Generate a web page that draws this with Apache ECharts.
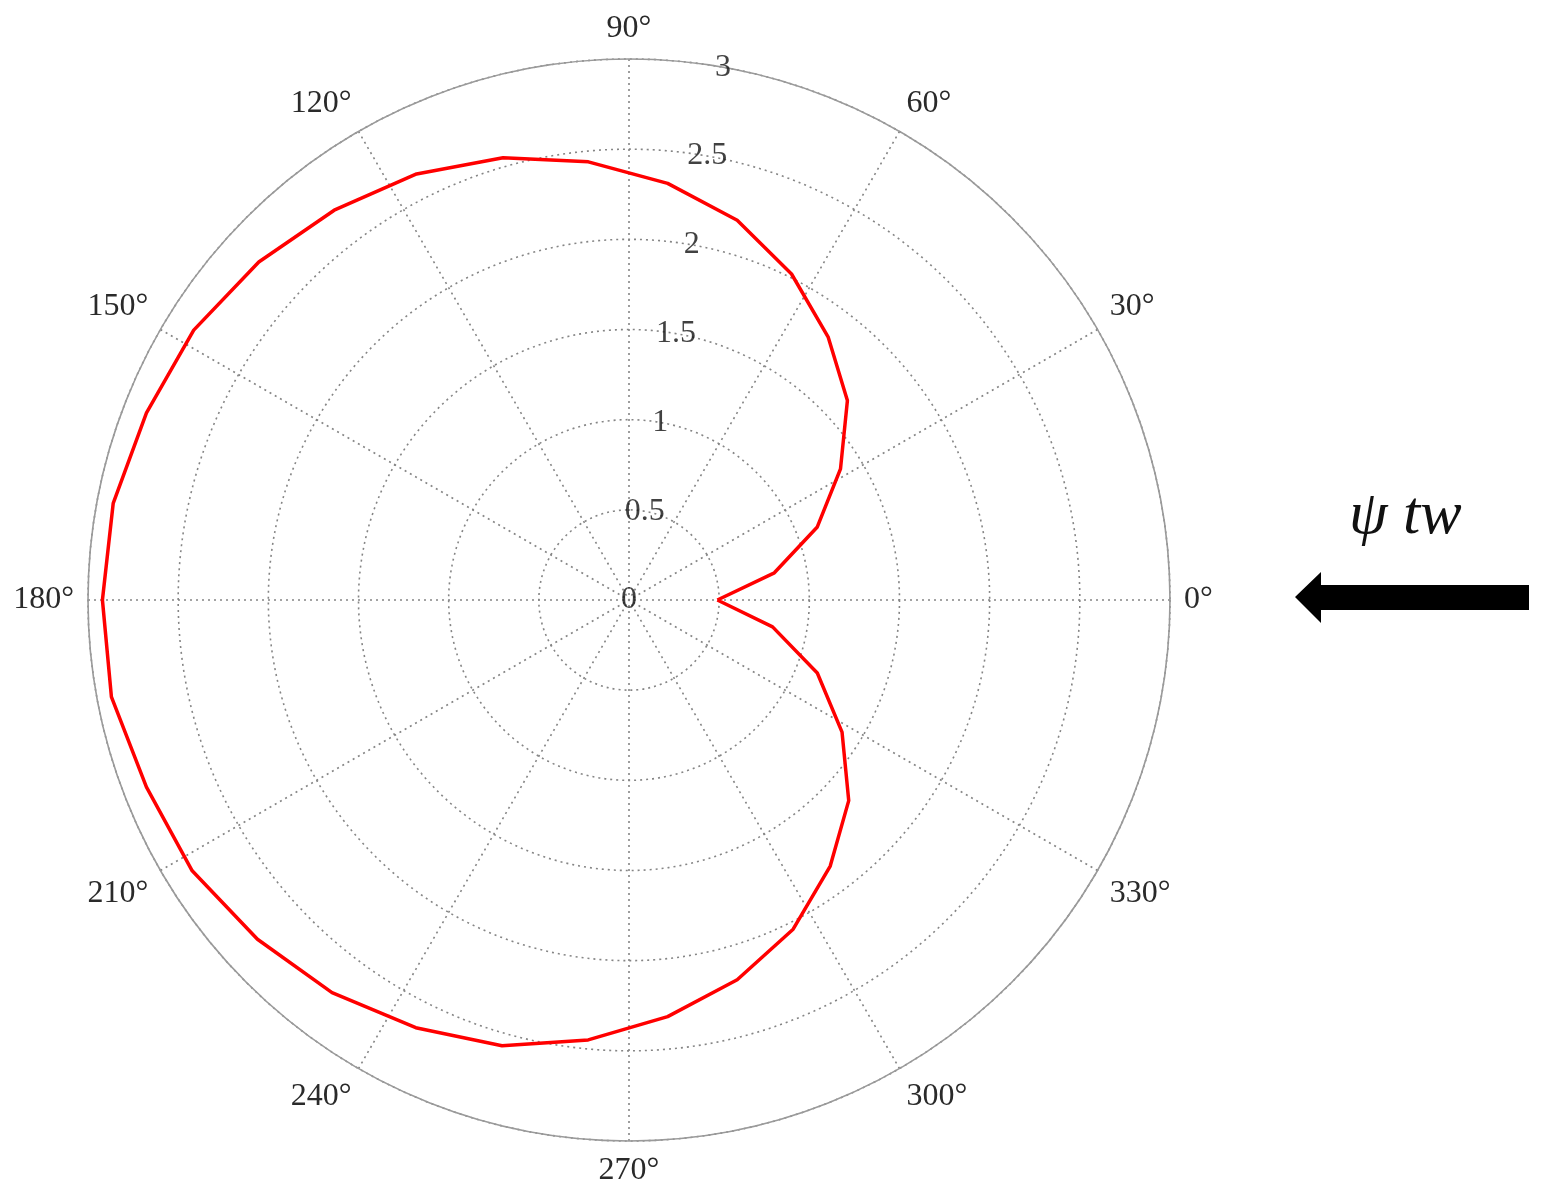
<!DOCTYPE html>
<html>
<head>
<meta charset="utf-8">
<script src="https://cdn.jsdelivr.net/npm/echarts@6/dist/echarts.min.js"></script>
<style>
  html, body { margin: 0; padding: 0; background: #ffffff; }
  #chart { width: 1542px; height: 1200px; }
</style>
</head>
<body>
<div id="chart"></div>
<script>
const angleDeg = [0, 10.6, 21.2, 31.8, 42.4, 52.9, 63.5, 74.1, 84.7, 95.3, 105.9, 116.5,
  127.1, 137.6, 148.2, 158.8, 169.4, 180, 190.6, 201.2, 211.8, 222.4, 232.9, 243.5,
  254.1, 264.7, 275.3, 285.9, 296.5, 307.1, 317.6, 328.2, 338.8, 349.4, 360];
// Radius values of the red curve
const radiusVal = [0.49, 0.82, 1.12, 1.38, 1.64, 1.83, 2.02, 2.19, 2.32, 2.44, 2.55, 2.64,
  2.71, 2.78, 2.84, 2.87, 2.91, 2.92, 2.92, 2.87, 2.85, 2.79, 2.73, 2.65,
  2.57, 2.45, 2.32, 2.19, 2.04, 1.85, 1.65, 1.39, 1.12, 0.81, 0.49];
// Radial tick labels
const radialTicks = [0, 0.5, 1, 1.5, 2, 2.5, 3];
const radialTickLabels = ['0', '0.5', '1', '1.5', '2', '2.5', '3'];
const radialLabelAngle = 80;
// Angle tick labels
const angleTicks = [0, 30, 60, 90, 120, 150, 180, 210, 240, 270, 300, 330];

const chart = echarts.init(document.getElementById('chart'), null, { renderer: 'canvas' });

const curveData = angleDeg.map((a, i) => [radiusVal[i], a]);
const tickData = radialTicks.map((r, i) => ({ value: [r, radialLabelAngle], name: radialTickLabels[i] }));

const serif = '"Liberation Serif", "Times New Roman", serif';
const gridStyle = { color: '#858585', width: 1.6, type: [2, 4] };

chart.setOption({
  animation: false,
  backgroundColor: '#ffffff',
  polar: { center: [629, 600], radius: 541 },
  angleAxis: {
    type: 'value',
    min: 0, max: 360, interval: 30,
    startAngle: 0, clockwise: false,
    axisLine: { show: true, lineStyle: { color: '#9a9a9a', width: 1.6 } },
    axisTick: { show: false },
    axisLabel: {
      margin: 14,
      fontFamily: serif, fontSize: 32, color: '#2a2a2a',
      formatter: v => angleTicks.indexOf(v) >= 0 ? v + '°' : ''
    },
    splitLine: { show: true, lineStyle: gridStyle }
  },
  radiusAxis: {
    type: 'value',
    min: 0, max: 3, interval: 0.5,
    axisLine: { show: false },
    axisTick: { show: false },
    axisLabel: { show: false },
    splitLine: { show: true, lineStyle: gridStyle }
  },
  series: [
    {
      type: 'line',
      coordinateSystem: 'polar',
      data: curveData,
      showSymbol: false,
      symbol: 'none',
      lineStyle: { color: '#ff0000', width: 3.5 },
      z: 5
    },
    {
      type: 'scatter',
      coordinateSystem: 'polar',
      data: tickData,
      symbolSize: 1,
      itemStyle: { color: 'rgba(0,0,0,0)' },
      label: {
        show: true, position: 'inside',
        formatter: p => p.name,
        fontFamily: serif, fontSize: 32, color: '#111',
        textBorderWidth: 0
      },
      z: 6
    }
  ],
  graphic: [
    {
      type: 'text',
      left: 1349, top: 486,
      style: {
        text: 'ψ tw',
        fontFamily: serif, fontStyle: 'italic', fontSize: 62, fill: '#111'
      }
    },
    {
      type: 'polygon',
      shape: {
        points: [[1295, 597], [1321, 572], [1321, 585], [1529, 585], [1529, 610], [1321, 610], [1321, 623]]
      },
      style: { fill: '#000' }
    }
  ]
});
</script>
</body>
</html>
